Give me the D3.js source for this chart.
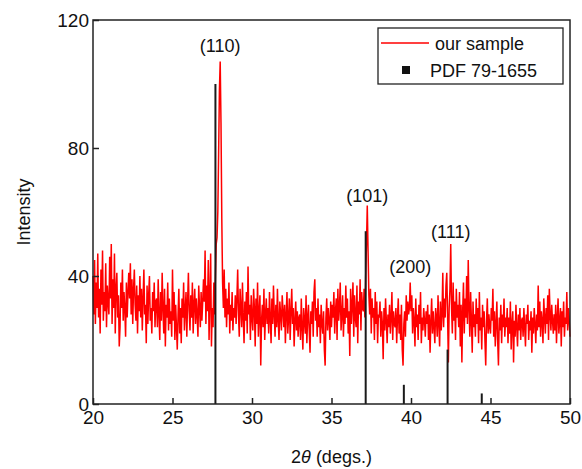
<!DOCTYPE html>
<html>
<head>
<meta charset="utf-8">
<script src="https://cdn.jsdelivr.net/npm/d3@7"></script>
<style>
	body{margin:0;background:#fff;}
	text{font-family:"Liberation Sans",Arial,sans-serif;fill:#111;}
</style>
</head>
<body>
<div id="div_chart"></div>
<script>
//=======================================================================
// 2theta start / step of the measured pattern
var v_start = 20, v_step = 0.05;

// measured intensity, one row per degree (20.00 .. 49.95), last value = 50.00
var ary_sample = [
	40,28,45,25,38,30,47,27,36,22,42,31,48,26,35,29,44,24,37,32,
	28,46,33,50,25,39,30,47,22,36,41,27,34,18,24,38,30,42,26,35,
	30,21,38,27,35,41,33,44,28,39,25,36,42,31,26,37,22,34,29,40,
	27,36,23,33,42,28,31,19,37,25,34,40,26,30,22,35,29,38,24,32,
	33,24,39,28,20,35,26,41,30,22,36,18,31,27,38,23,33,25,29,21,
	42,26,35,20,31,24,17,28,36,22,30,19,33,27,38,23,29,35,21,32,
	41,29,23,34,27,38,22,31,36,25,33,28,21,37,30,24,35,26,32,39,
	32,48,25,37,29,45,20,34,47,18,30,24,38,28,40,50,52,60,78,98,
	107,88,58,38,30,42,27,36,24,33,28,38,22,31,26,35,23,30,27,34,
	25,33,42,28,21,36,30,24,38,27,19,32,26,35,22,43,28,31,20,34,
	27,23,36,30,18,33,25,38,21,29,34,12,26,31,24,36,20,28,33,25,
	30,22,35,27,19,33,25,37,28,21,31,24,36,26,20,32,28,23,34,29,
	24,31,19,28,35,22,27,33,20,29,36,25,30,18,26,32,23,29,21,27,
	28,20,33,24,17,30,26,22,34,19,27,31,23,16,29,25,32,21,35,39,
	26,30,21,33,24,28,19,31,25,22,29,17,12,27,33,23,30,26,20,32,
	24,31,27,35,22,29,33,20,36,26,30,38,23,28,34,21,30,25,37,27,
	33,22,29,15,36,25,31,38,21,34,27,24,37,19,32,28,39,23,35,30,
	29,36,27,40,50,62,48,34,28,36,22,33,27,30,20,35,25,32,19,28,
	27,32,21,29,25,14,30,23,33,26,19,28,24,31,22,27,35,20,29,25,
	24,30,19,27,33,22,28,20,31,17,12,25,29,21,34,26,32,28,30,38,
	29,34,22,30,26,18,33,24,28,20,31,25,35,19,27,23,30,26,21,29,
	25,31,20,28,16,26,33,22,29,24,19,30,27,21,34,25,18,32,23,28,
	41,24,33,27,37,41,28,13,30,36,50,30,22,38,26,32,20,36,27,31,
	24,35,18,31,13,29,38,22,33,27,40,25,45,30,21,35,26,16,32,24,
	28,21,33,25,30,19,35,23,27,17,31,24,29,20,12,26,33,22,28,24,
	22,30,26,36,21,29,18,25,32,20,12,27,23,31,19,28,24,33,21,27,
	24,30,19,27,22,32,17,25,29,13,26,21,31,24,18,28,23,30,20,26,
	27,21,30,24,18,28,25,31,20,26,23,29,16,27,22,30,25,19,28,23,
	37,24,32,21,29,26,19,33,27,22,30,25,34,20,36,28,23,31,26,22,
	28,23,31,19,27,33,22,26,30,18,29,24,32,21,27,25,35,23,30,26,
	21
];

// reference card PDF 79-1655 (stick pattern)
var ary_pdfPos = [27.7, 37.15, 39.55, 42.3, 44.45];
var ary_pdfInt = [100, 54, 6, 17, 3.3];

// peak labels
var ary_hkl    = ["(110)", "(101)", "(200)", "(111)"];
var ary_hklX   = [28.0, 37.25, 39.95, 42.5];
var ary_hklY   = [110, 63, 41, 52];

var ary_xTicks = [20, 25, 30, 35, 40, 45, 50];
var ary_yTicks = [0, 40, 80, 120];
//-----------------------------------------------------------------------
var v_W = 582, v_H = 469;
var v_margin = {left:93, right:12, top:20, bottom:65};

var v_Canvas = d3.select("#div_chart")
					.append("svg")
					.attr("width", v_W)
					.attr("height", v_H);

var x = d3.scaleLinear().domain([20, 50]).range([v_margin.left, v_W - v_margin.right]);
var y = d3.scaleLinear().domain([0, 120]).range([v_H - v_margin.bottom, v_margin.top]);

var data = ary_sample.map(function(d, i){ return {tt: v_start + i*v_step, I: d}; });

// red pattern
v_Canvas.append("path")
			.datum(data)
			.attr("fill", "none")
			.attr("stroke", "#ff0000")
			.attr("stroke-width", 1.5)
			.attr("d", d3.line()
						.x(function(d){ return x(d.tt); })
						.y(function(d){ return y(d.I); }));

// PDF sticks on top
v_Canvas.selectAll("line.pdf")
			.data(ary_pdfPos)
			.enter()
				.append("line")
				.attr("class", "pdf")
				.attr("x1", function(d){ return x(d); })
				.attr("x2", function(d){ return x(d); })
				.attr("y1", y(0))
				.attr("y2", function(d,i){ return y(ary_pdfInt[i]); })
				.attr("stroke", "#1a1a1a")
				.attr("stroke-width", 2);

// axes, ticks pointing inwards
var xAxis = d3.axisBottom(x).tickValues(ary_xTicks).tickSizeInner(-6).tickSizeOuter(0).tickPadding(7);
var yAxis = d3.axisLeft(y).tickValues(ary_yTicks).tickSizeInner(-6).tickSizeOuter(0).tickPadding(4);

var gx = v_Canvas.append("g")
			.attr("transform", "translate(0," + y(0) + ")")
			.call(xAxis);
var gy = v_Canvas.append("g")
			.attr("transform", "translate(" + x(20) + ",0)")
			.call(yAxis);

[gx, gy].forEach(function(g){
	g.select(".domain").remove();
	g.selectAll("line").attr("stroke", "#222").attr("stroke-width", 1.5);
	g.selectAll("text").style("font-size", "19px").attr("fill", "#111");
});
gx.selectAll("text").attr("dy", "0.71em");

// frame
v_Canvas.append("rect")
			.attr("x", x(20))
			.attr("y", y(120))
			.attr("width", x(50) - x(20))
			.attr("height", y(0) - y(120))
			.attr("fill", "none")
			.attr("stroke", "#222")
			.attr("stroke-width", 1.5);

// peak labels
v_Canvas.selectAll("text.hkl")
			.data(ary_hkl)
			.enter()
				.append("text")
				.attr("class", "hkl")
				.attr("x", function(d,i){ return x(ary_hklX[i]); })
				.attr("y", function(d,i){ return y(ary_hklY[i]); })
				.attr("text-anchor", "middle")
				.style("font-size", "18px")
				.text(function(d){ return d; });

// axis titles
var xt = v_Canvas.append("text")
			.attr("x", (x(20) + x(50))/2)
			.attr("y", 463)
			.attr("text-anchor", "middle")
			.style("font-size", "18px");
xt.append("tspan").text("2");
xt.append("tspan").style("font-style", "italic").text("\u03b8");
xt.append("tspan").text(" (degs.)");

v_Canvas.append("text")
			.attr("transform", "translate(30," + (y(0) + y(120))/2 + ") rotate(-90)")
			.attr("text-anchor", "middle")
			.style("font-size", "18px")
			.text("Intensity");

// legend
var lg = v_Canvas.append("g").attr("transform", "translate(378,28)");
lg.append("rect")
		.attr("width", 185).attr("height", 56)
		.attr("fill", "#fff").attr("stroke", "#222").attr("stroke-width", 1.3);
lg.append("line")
		.attr("x1", 3).attr("x2", 51).attr("y1", 15).attr("y2", 15)
		.attr("stroke", "#ff0000").attr("stroke-width", 1.5);
lg.append("text").attr("x", 57).attr("y", 22).style("font-size", "18px").text("our sample");
lg.append("rect")
		.attr("x", 24).attr("y", 38).attr("width", 8).attr("height", 8)
		.attr("fill", "#111");
lg.append("text").attr("x", 52).attr("y", 49).style("font-size", "18px").text("PDF 79-1655");
//======================================================================
</script>
</body>
</html>
